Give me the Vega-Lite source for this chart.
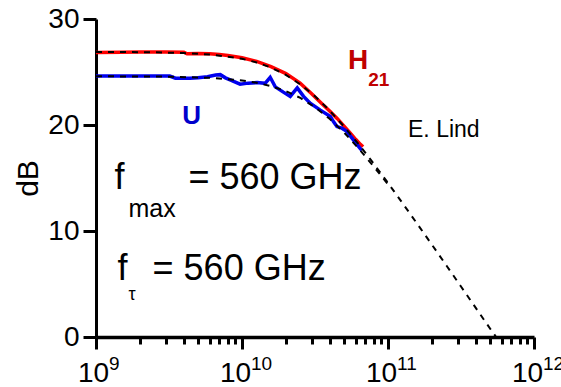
{
  "$schema": "https://vega.github.io/schema/vega-lite/v6.json",
  "autosize": {"type": "none"},
  "padding": {"left": 96, "top": 19, "right": 27, "bottom": 50},
  "width": 438,
  "height": 318,
  "config": {
    "view": {"stroke": null},
    "font": "Liberation Sans",
    "axis": {"grid": false, "domainColor": "black", "tickColor": "black", "labelColor": "black", "titleColor": "black", "labelFont": "Liberation Sans", "titleFont": "Liberation Sans"}
  },
  "datasets": {
    "measured": [
      {"series": "H21", "f": 1e9, "dB": 26.85},
      {"series": "H21", "f": 1.5e9, "dB": 26.86},
      {"series": "H21", "f": 2e9, "dB": 26.88},
      {"series": "H21", "f": 3e9, "dB": 26.88},
      {"series": "H21", "f": 4e9, "dB": 26.86},
      {"series": "H21", "f": 4.2e9, "dB": 26.72},
      {"series": "H21", "f": 5e9, "dB": 26.74},
      {"series": "H21", "f": 6e9, "dB": 26.72},
      {"series": "H21", "f": 7e9, "dB": 26.65},
      {"series": "H21", "f": 8e9, "dB": 26.55},
      {"series": "H21", "f": 1e10, "dB": 26.35},
      {"series": "H21", "f": 1.26e10, "dB": 26.0},
      {"series": "H21", "f": 1.58e10, "dB": 25.5},
      {"series": "H21", "f": 2e10, "dB": 24.85},
      {"series": "H21", "f": 2.5e10, "dB": 23.95},
      {"series": "H21", "f": 3e10, "dB": 22.95},
      {"series": "H21", "f": 3.5e10, "dB": 22.05},
      {"series": "H21", "f": 4e10, "dB": 21.3},
      {"series": "H21", "f": 4.5e10, "dB": 20.6},
      {"series": "H21", "f": 5e10, "dB": 19.9},
      {"series": "H21", "f": 5.5e10, "dB": 19.25},
      {"series": "H21", "f": 6e10, "dB": 18.65},
      {"series": "H21", "f": 6.5e10, "dB": 18.15},
      {"series": "H21", "f": 6.75e10, "dB": 17.95},
      {"series": "U", "f": 1e9, "dB": 24.62},
      {"series": "U", "f": 2e9, "dB": 24.62},
      {"series": "U", "f": 3.2e9, "dB": 24.62},
      {"series": "U", "f": 3.5e9, "dB": 24.42},
      {"series": "U", "f": 4.4e9, "dB": 24.4},
      {"series": "U", "f": 5e9, "dB": 24.45},
      {"series": "U", "f": 5.8e9, "dB": 24.56},
      {"series": "U", "f": 6.6e9, "dB": 24.72},
      {"series": "U", "f": 7.1e9, "dB": 24.75},
      {"series": "U", "f": 7.7e9, "dB": 24.45},
      {"series": "U", "f": 8.3e9, "dB": 24.25},
      {"series": "U", "f": 9.7e9, "dB": 23.85},
      {"series": "U", "f": 1.1e10, "dB": 23.95},
      {"series": "U", "f": 1.27e10, "dB": 24.0},
      {"series": "U", "f": 1.44e10, "dB": 23.93},
      {"series": "U", "f": 1.56e10, "dB": 24.5},
      {"series": "U", "f": 1.69e10, "dB": 23.6},
      {"series": "U", "f": 1.92e10, "dB": 23.1},
      {"series": "U", "f": 2.14e10, "dB": 22.7},
      {"series": "U", "f": 2.39e10, "dB": 23.5},
      {"series": "U", "f": 2.64e10, "dB": 22.7},
      {"series": "U", "f": 2.93e10, "dB": 22.05},
      {"series": "U", "f": 3.44e10, "dB": 21.4},
      {"series": "U", "f": 4.03e10, "dB": 20.8},
      {"series": "U", "f": 4.24e10, "dB": 20.3},
      {"series": "U", "f": 4.47e10, "dB": 19.85},
      {"series": "U", "f": 4.83e10, "dB": 19.7},
      {"series": "U", "f": 5.22e10, "dB": 19.4},
      {"series": "U", "f": 5.79e10, "dB": 18.6},
      {"series": "U", "f": 6.44e10, "dB": 17.8},
      {"series": "U", "f": 6.62e10, "dB": 17.6}
    ],
    "model": [
      {"series": "H21", "f": 1e9, "dB": 26.89},
      {"series": "H21", "f": 1.585e9, "dB": 26.88},
      {"series": "H21", "f": 2.512e9, "dB": 26.86},
      {"series": "H21", "f": 3.981e9, "dB": 26.79},
      {"series": "H21", "f": 6.31e9, "dB": 26.63},
      {"series": "H21", "f": 1e10, "dB": 26.25},
      {"series": "H21", "f": 1.259e10, "dB": 25.9},
      {"series": "H21", "f": 1.585e10, "dB": 25.41},
      {"series": "H21", "f": 1.995e10, "dB": 24.73},
      {"series": "H21", "f": 2.512e10, "dB": 23.83},
      {"series": "H21", "f": 3.162e10, "dB": 22.71},
      {"series": "H21", "f": 3.981e10, "dB": 21.37},
      {"series": "H21", "f": 5.012e10, "dB": 19.84},
      {"series": "H21", "f": 6.31e10, "dB": 18.17},
      {"series": "H21", "f": 7.943e10, "dB": 16.39},
      {"series": "H21", "f": 1e11, "dB": 14.53},
      {"series": "H21", "f": 1.259e11, "dB": 12.62},
      {"series": "H21", "f": 1.585e11, "dB": 10.68},
      {"series": "H21", "f": 1.995e11, "dB": 8.72},
      {"series": "H21", "f": 2.512e11, "dB": 6.75},
      {"series": "H21", "f": 3.162e11, "dB": 4.76},
      {"series": "H21", "f": 3.981e11, "dB": 2.77},
      {"series": "H21", "f": 5.012e11, "dB": 0.78},
      {"series": "H21", "f": 5.5e11, "dB": 0.0},
      {"series": "U", "f": 1e9, "dB": 24.6},
      {"series": "U", "f": 3.162e9, "dB": 24.56},
      {"series": "U", "f": 6.31e9, "dB": 24.44},
      {"series": "U", "f": 1e10, "dB": 24.2},
      {"series": "U", "f": 1.259e10, "dB": 23.99},
      {"series": "U", "f": 1.585e10, "dB": 23.66},
      {"series": "U", "f": 1.995e10, "dB": 23.2},
      {"series": "U", "f": 2.512e10, "dB": 22.55},
      {"series": "U", "f": 3.162e10, "dB": 21.68},
      {"series": "U", "f": 3.981e10, "dB": 20.59},
      {"series": "U", "f": 5.012e10, "dB": 19.28},
      {"series": "U", "f": 6.31e10, "dB": 17.77},
      {"series": "U", "f": 7.943e10, "dB": 16.12},
      {"series": "U", "f": 1e11, "dB": 14.4}
    ],
    "exps": [
      {"f": 1e9, "dB": 0, "t": "9"},
      {"f": 1e10, "dB": 0, "t": "10"},
      {"f": 1e11, "dB": 0, "t": "11"},
      {"f": 1e12, "dB": 0, "t": "12"}
    ],
    "notes": [
      {"f": 1.338e9, "dB": 13.96, "t": "f"},
      {"f": 1.668e9, "dB": 11.32, "t": "max"},
      {"f": 4.3e9, "dB": 13.96, "t": "= 560 GHz"},
      {"f": 1.403e9, "dB": 5.38, "t": "f"},
      {"f": 1.668e9, "dB": 3.49, "t": "τ"},
      {"f": 2.44e9, "dB": 5.38, "t": "= 560 GHz"},
      {"f": 5.33e10, "dB": 25.28, "t": "H"},
      {"f": 7.31e10, "dB": 23.68, "t": "21"},
      {"f": 3.89e9, "dB": 20.07, "t": "U"},
      {"f": 1.371e11, "dB": 18.9, "t": "E. Lind"}
    ]
  },
  "encoding": {
    "x": {
      "field": "f", "type": "quantitative",
      "scale": {"type": "log", "domain": [1e9, 1e12]},
      "axis": {
        "title": null,
        "values": [1e9, 2e9, 3e9, 4e9, 5e9, 6e9, 7e9, 8e9, 9e9, 1e10, 2e10, 3e10, 4e10, 5e10, 6e10, 7e10, 8e10, 9e10, 1e11, 2e11, 3e11, 4e11, 5e11, 6e11, 7e11, 8e11, 9e11, 1e12],
        "labelExpr": "abs(log(datum.value)/LN10 - round(log(datum.value)/LN10)) < 0.01 ? '10' : ''",
        "labelOverlap": false,
        "labelFlush": false,
        "labelFontSize": 28,
        "labelBaseline": "alphabetic",
        "labelPadding": 32,
        "labelOffset": {"condition": {"test": "datum.value < 5e9", "value": -3}, "value": -7},
        "domainWidth": 3.5,
        "tickWidth": 3,
        "tickSize": {"condition": {"test": "abs(log(datum.value)/LN10 - round(log(datum.value)/LN10)) < 0.01", "value": 12}, "value": 7}
      }
    },
    "y": {
      "field": "dB", "type": "quantitative",
      "scale": {"domain": [0, 30]},
      "axis": {
        "title": "dB",
        "values": [0, 10, 20, 30],
        "labelFontSize": 28,
        "labelPadding": 4,
        "tickSize": 13,
        "tickWidth": 3,
        "domainWidth": 3,
        "titleFontSize": 30,
        "titleFontWeight": "normal",
        "titlePadding": 4
      }
    }
  },
  "layer": [
    {
      "data": {"name": "measured"},
      "mark": {"type": "line", "strokeWidth": 3.5},
      "encoding": {
        "color": {"field": "series", "type": "nominal", "scale": {"domain": ["H21", "U"], "range": ["#ff0000", "#0000ee"]}, "legend": null}
      }
    },
    {
      "data": {"name": "model"},
      "mark": {"type": "line", "strokeWidth": 2, "color": "black", "strokeDash": [6, 6]},
      "encoding": {"detail": {"field": "series"}}
    },
    {
      "data": {"name": "exps"},
      "transform": [{"filter": "datum.t == '9'"}],
      "mark": {"type": "text", "fontSize": 19, "align": "left", "baseline": "alphabetic", "dx": 13, "dy": 33, "color": "black"},
      "encoding": {"text": {"field": "t"}}
    },
    {
      "data": {"name": "exps"},
      "transform": [{"filter": "datum.t != '9'"}],
      "mark": {"type": "text", "fontSize": 19, "align": "left", "baseline": "alphabetic", "dx": 9, "dy": 33, "color": "black"},
      "encoding": {"text": {"field": "t"}}
    },
    {
      "data": {"name": "notes"},
      "transform": [{"filter": "datum.t == 'f' || datum.t == '= 560 GHz'"}],
      "mark": {"type": "text", "fontSize": 36, "align": "left", "baseline": "alphabetic", "color": "black"},
      "encoding": {"text": {"field": "t"}}
    },
    {
      "data": {"name": "notes"},
      "transform": [{"filter": "datum.t == 'max'"}],
      "mark": {"type": "text", "fontSize": 25, "align": "left", "baseline": "alphabetic", "color": "black"},
      "encoding": {"text": {"field": "t"}}
    },
    {
      "data": {"name": "notes"},
      "transform": [{"filter": "datum.t == 'τ'"}],
      "mark": {"type": "text", "fontSize": 18, "align": "left", "baseline": "alphabetic", "color": "black"},
      "encoding": {"text": {"field": "t"}}
    },
    {
      "data": {"name": "notes"},
      "transform": [{"filter": "datum.t == 'H'"}],
      "mark": {"type": "text", "fontSize": 28, "fontWeight": "bold", "align": "left", "baseline": "alphabetic", "color": "#c00000"},
      "encoding": {"text": {"field": "t"}}
    },
    {
      "data": {"name": "notes"},
      "transform": [{"filter": "datum.t == '21'"}],
      "mark": {"type": "text", "fontSize": 19, "fontWeight": "bold", "align": "left", "baseline": "alphabetic", "color": "#c00000"},
      "encoding": {"text": {"field": "t"}}
    },
    {
      "data": {"name": "notes"},
      "transform": [{"filter": "datum.t == 'U'"}],
      "mark": {"type": "text", "fontSize": 26, "fontWeight": "bold", "align": "left", "baseline": "alphabetic", "color": "#0000cc"},
      "encoding": {"text": {"field": "t"}}
    },
    {
      "data": {"name": "notes"},
      "transform": [{"filter": "datum.t == 'E. Lind'"}],
      "mark": {"type": "text", "fontSize": 23, "align": "left", "baseline": "alphabetic", "color": "black"},
      "encoding": {"text": {"field": "t"}}
    }
  ]
}
